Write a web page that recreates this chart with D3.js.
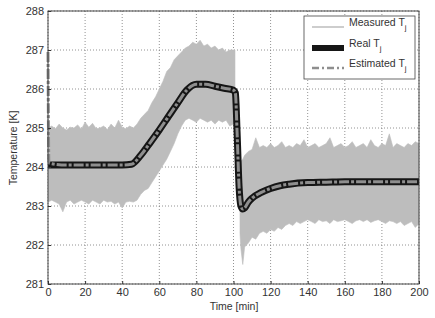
<!DOCTYPE html>
<html><head><meta charset="utf-8">
<script src="https://cdn.jsdelivr.net/npm/d3@7"></script>
<style>
html,body{margin:0;padding:0;background:#fff;}
svg{display:block;font-family:"Liberation Sans",Arial,sans-serif;}
</style></head>
<body>
<svg id="c" width="435" height="318"></svg>
<script>
// ---------- data ----------
const xTicks = [0,20,40,60,80,100,120,140,160,180,200];
const yTicks = [281,282,283,284,285,286,287,288];

// measured Tj shown as its band (upper / lower envelope); null = gap
const measTime = [0,2,4,6,8,10,12,14,16,18,20,22,24,26,28,30,32,34,36,38,40,42,44,46,48,50,52,54,56,58,60,62,64,66,68,70,72,74,76,78,80,82,84,86,88,90,92,94,96,98,100,100.8,102,
  103.5,104,105,106,108,110,112,114,116,118,120,122,124,126,128,130,132,134,136,138,140,142,144,146,148,150,152,154,156,158,160,162,164,166,168,170,172,174,176,178,180,182,184,186,188,190,192,194,196,198,200];
const measUpper = [285.0,285.05,284.98,285.1,285.0,284.95,285.02,285.0,285.08,284.97,285.15,285.02,285.12,284.98,285.0,285.05,284.96,285.1,285.0,285.2,285.02,284.98,285.05,285.0,285.1,285.25,285.35,285.45,285.65,285.8,286.0,286.2,286.45,286.55,286.75,286.85,286.95,287.05,287.1,287.2,287.15,287.25,287.1,287.15,287.05,287.1,287.0,287.05,286.95,287.0,287.0,287.0,null,
  284.1,284.15,284.2,284.3,284.4,284.45,284.75,284.5,284.55,284.5,284.6,284.5,284.55,284.65,284.5,284.55,284.5,284.6,284.55,284.7,284.5,284.55,284.6,284.5,284.55,284.6,284.75,284.5,284.55,284.6,284.5,284.55,284.65,284.5,284.55,284.6,284.5,284.7,284.55,284.5,284.6,284.55,284.85,284.5,284.6,284.55,284.5,284.6,284.55,284.65,284.6];
const measLower = [283.1,283.15,283.1,283.05,282.85,283.1,283.15,283.05,283.1,283.15,283.1,283.05,283.15,283.1,283.05,283.15,283.1,283.12,283.05,283.1,282.95,283.1,283.12,283.1,283.15,283.3,283.4,283.45,283.6,283.75,283.9,284.05,284.2,284.4,284.6,284.85,285.05,285.2,285.25,285.2,285.15,285.25,285.2,285.15,285.2,285.1,285.2,285.15,285.2,285.05,285.1,285.1,null,
  282.3,281.9,281.5,281.95,282.05,282.2,282.15,282.3,282.35,282.3,282.4,282.35,282.45,282.4,282.5,282.55,282.5,282.6,282.55,282.6,282.65,282.6,282.55,282.65,282.6,282.62,282.55,282.65,282.6,282.62,282.65,282.6,282.55,282.62,282.65,282.6,282.65,282.58,282.62,282.65,282.6,282.55,282.62,282.6,282.55,282.6,282.5,282.55,282.6,282.45,282.55];

// real Tj
const realTime = [0,10,20,30,40,45,50,55,60,65,70,75,80,85,90,95,100,101,102,103,104,105,106,108,110,115,120,125,130,140,150,160,200];
const realTemp = [284.05,284.05,284.05,284.05,284.05,284.07,284.3,284.62,284.95,285.3,285.65,285.98,286.12,286.12,286.07,286.02,285.97,285.9,284.8,283.5,283.0,282.92,282.95,283.1,283.2,283.35,283.45,283.52,283.56,283.6,283.61,283.62,283.62];

// estimated Tj
const estTime = [0,0.5,10,20,30,40,45,50,55,60,65,70,75,80,85,90,95,100,101,102,103,104,105,106,108,110,115,120,125,130,140,150,160,200];
const estTemp = [286.95,284.1,284.05,284.05,284.05,284.05,284.07,284.3,284.62,284.95,285.3,285.65,285.98,286.12,286.12,286.07,286.02,285.97,285.9,284.8,283.5,283.0,282.92,282.95,283.1,283.2,283.35,283.45,283.52,283.56,283.6,283.61,283.62,283.62];

const legendLabels = ["Measured T","Real T","Estimated T"];

// ---------- drawing ----------
const svg = d3.select("#c");
const L = 48, R = 419, T = 11, B = 284;
const x = d3.scaleLinear().domain([0,200]).range([L,R]);
const y = d3.scaleLinear().domain([281,288]).range([B,T]);

// grid
const g = svg.append("g");
g.selectAll("line.gx").data(xTicks).join("line")
  .attr("x1",d=>x(d)).attr("x2",d=>x(d)).attr("y1",T).attr("y2",B)
  .attr("stroke","#777").attr("stroke-width",0.8).attr("stroke-dasharray","1,2");
g.selectAll("line.gy").data(yTicks).join("line")
  .attr("x1",L).attr("x2",R).attr("y1",d=>y(d)).attr("y2",d=>y(d))
  .attr("stroke","#777").attr("stroke-width",0.8).attr("stroke-dasharray","1,2");

// measured band
const meas = measTime.map((t,i)=>({t,hi:measUpper[i],lo:measLower[i]}));
svg.append("path").datum(meas)
  .attr("d", d3.area().defined(d=>d.hi!=null && d.lo!=null).x(d=>x(d.t)).y0(d=>y(d.lo)).y1(d=>y(d.hi)))
  .attr("fill","#bdbdbd").attr("stroke","#bdbdbd").attr("stroke-width",0.6);

// real line
const real = realTime.map((t,i)=>({t,v:realTemp[i]}));
const est = estTime.map((t,i)=>({t,v:estTemp[i]}));
const line = d3.line().x(d=>x(d.t)).y(d=>y(d.v)).curve(d3.curveMonotoneX);
svg.append("path").datum(real).attr("d",line)
  .attr("fill","none").attr("stroke","#161616").attr("stroke-width",7).attr("stroke-linejoin","round");
svg.append("path").datum(est).attr("d",line)
  .attr("fill","none").attr("stroke","#8e8e8e").attr("stroke-width",3)
  .attr("stroke-dasharray","10,2,3,2");

// frame
svg.append("rect").attr("x",L).attr("y",T).attr("width",R-L).attr("height",B-T)
  .attr("fill","none").attr("stroke","#333").attr("stroke-width",0.9);

// axes (ticks inside)
const xAxis = d3.axisBottom(x).tickValues(xTicks).tickSizeInner(-3).tickSizeOuter(0).tickPadding(4);
const yAxis = d3.axisLeft(y).tickValues(yTicks).tickSizeInner(-3).tickSizeOuter(0).tickPadding(4).tickFormat(d3.format("d"));
const ax = svg.append("g").attr("transform",`translate(0,${B})`).call(xAxis);
const ay = svg.append("g").attr("transform",`translate(${L},0)`).call(yAxis);
[ax,ay].forEach(a=>{
  a.select(".domain").remove();
  a.selectAll("line").attr("stroke","#333");
  a.selectAll("text").attr("font-size",11).attr("fill","#333").attr("font-family","Liberation Sans, Arial, sans-serif");
});

// axis titles
svg.append("text").attr("x",234).attr("y",310).attr("text-anchor","middle")
  .attr("font-size",10.5).attr("fill","#333").text("Time [min]");
svg.append("text").attr("transform","translate(17,148) rotate(-90)").attr("text-anchor","middle")
  .attr("font-size",10.5).attr("fill","#333").text("Temperature [K]");

// legend
const lg = svg.append("g");
lg.append("rect").attr("x",304).attr("y",16).attr("width",111).attr("height",63)
  .attr("fill","#fff").attr("stroke","#444").attr("stroke-width",0.8);
const rows = [27,48,68];
lg.append("line").attr("x1",312).attr("x2",344).attr("y1",rows[0]).attr("y2",rows[0])
  .attr("stroke","#bdbdbd").attr("stroke-width",1.5);
lg.append("line").attr("x1",312).attr("x2",344).attr("y1",rows[1]).attr("y2",rows[1])
  .attr("stroke","#161616").attr("stroke-width",6);
lg.append("line").attr("x1",312).attr("x2",344).attr("y1",rows[2]).attr("y2",rows[2])
  .attr("stroke","#8e8e8e").attr("stroke-width",2.5).attr("stroke-dasharray","7,3,2,3");
legendLabels.forEach((lab,i)=>{
  const t = lg.append("text").attr("x",349).attr("y",rows[i]-1).attr("font-size",10.5).attr("fill","#333");
  t.append("tspan").text(lab);
  t.append("tspan").attr("dy",4).attr("font-size",8).text("j");
});
</script>
</body></html>
